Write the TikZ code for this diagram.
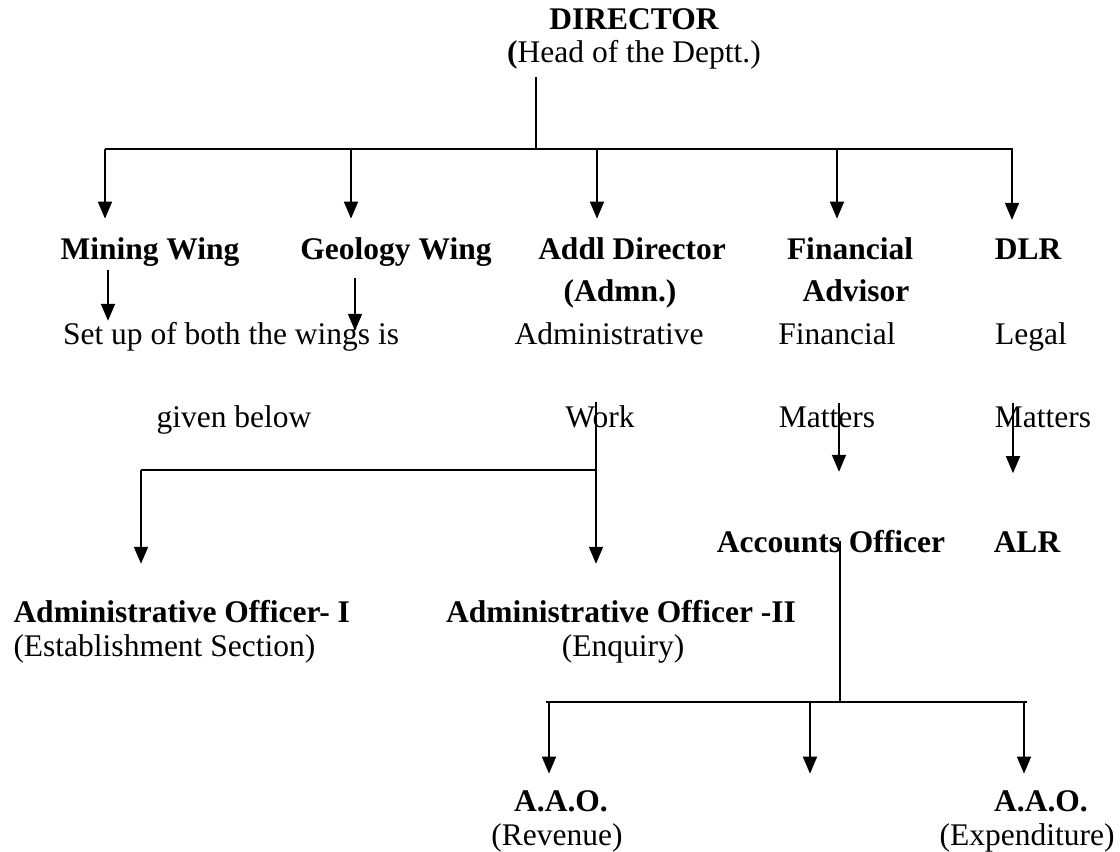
\documentclass[tikz,border=0pt]{standalone}
\usepackage{fontspec}
\setmainfont{Liberation Serif}
\usetikzlibrary{arrows.meta}

\tikzset{
	chief/.style={font=\fontsize{12.6}{15}\selectfont\bfseries, inner sep=0pt, anchor=base},
	plain/.style={font=\fontsize{12.6}{15}\selectfont, inner sep=0pt, anchor=base},
	arr/.style={-{Triangle[length=6.8pt,width=5.6pt]}, line width=0.7pt},
	link/.style={line width=0.7pt},
	bar/.style={line width=1.1pt}
}

\begin{document}
\begin{tikzpicture}[x=0.4pt,y=-0.4pt]
	\useasboundingbox (0,0) rectangle (1120,852);

	% head of the department
	\node (dir) [chief] at (634,30) {DIRECTOR};
	\node (head) [plain] at (634,63) {{\bfseries(}Head of the Deptt.)};

	\coordinate (top) at (536,149);
	\draw
		[link, shorten <=2.8pt] (top |- head.south) -- (top);

	\draw
		[bar] (105,149) -- (1013,149);

	% wings and officers
	\node (mining) [chief] at (150,260) {Mining Wing};
	\node (geology) [chief] at (396,260) {Geology Wing};
	\node (addl) [chief] at (632,260) {Addl Director};
	\node (admn) [chief] at (620,302) {(Admn.)};
	\node (finadv) [chief] at (850,260) {Financial};
	\node (advisor) [chief] at (856,302) {Advisor};
	\node (dlr) [chief] at (1028,260) {DLR};

	\foreach \x/\n in {105/mining,351/geology,597/addl,837/finadv,1012/dlr}
		\draw
			[arr, shorten >=7.6pt] (\x,149) -- (\x,0 |- \n.north);

	% duties
	\node (setup) [plain] at (231,345) {Set up of both the wings is};
	\node (below) [plain] at (234,428) {given below};
	\node (admwork) [plain] at (609,345) {Administrative};
	\node (work) [plain] at (600,428) {Work};
	\node (finmat) [plain] at (837,345) {Financial};
	\node (matfin) [plain] at (827,428) {Matters};
	\node (legal) [plain] at (1031,345) {Legal};
	\node (matlegal) [plain] at (1043,428) {Matters};

	\draw
		[arr, shorten <=1.2pt, shorten >=0.6pt] (108,0 |- mining.south) -- (108,0 |- setup.north);

	\draw
		[arr, shorten <=4.4pt, shorten >=-3.4pt] (355,0 |- geology.south) -- (355,0 |- setup.north);

	% administration
	\node (aoone) [chief, anchor=base west] at (13,622) {Administrative Officer- I};
	\node (estab) [plain, anchor=base west] at (13,656) {(Establishment Section)};
	\node (aotwo) [chief] at (621,622) {Administrative Officer -II};
	\node (enquiry) [plain] at (623,656) {(Enquiry)};

	\coordinate (split) at (596,470);
	\coordinate (leftdrop) at (141,470);
	\draw
		[link, shorten <=-1.5pt] (split |- work.north) -- (split);
	\draw
		[bar] (leftdrop) -- (split);
	\draw
		[arr, shorten >=14.2pt] (split) -- (split |- aotwo.north);
	\draw
		[arr, shorten >=14.2pt] (leftdrop) -- (leftdrop |- aoone.north);

	% accounts and law
	\node (acc) [chief] at (831,552) {Accounts Officer};
	\node (alr) [chief] at (1027,552) {ALR};

	\draw
		[arr, shorten <=-1.5pt, shorten >=23pt] (839,0 |- matfin.north) -- (839,0 |- acc.north);
	\draw
		[arr, shorten <=-1.5pt, shorten >=23pt] (1013,0 |- matlegal.north) -- (1013,0 |- alr.north);

	\node (aaorev) [chief] at (561,811) {A.A.O.};
	\node (revenue) [plain] at (557,845) {(Revenue)};
	\node (aaoexp) [chief] at (1041,811) {A.A.O.};
	\node (expend) [plain] at (1027,845) {(Expenditure)};

	\coordinate (accsplit) at (840,702);
	\draw
		[link] (accsplit |- acc.center) -- (accsplit);
	\draw
		[bar] (546,702) -- (1027,702);

	\foreach \x/\n in {549/aaorev,810/aaorev,1024/aaoexp}
		\draw
			[arr, shorten >=6.4pt] (\x,702) -- (\x,0 |- \n.north);

\end{tikzpicture}
\end{document}
